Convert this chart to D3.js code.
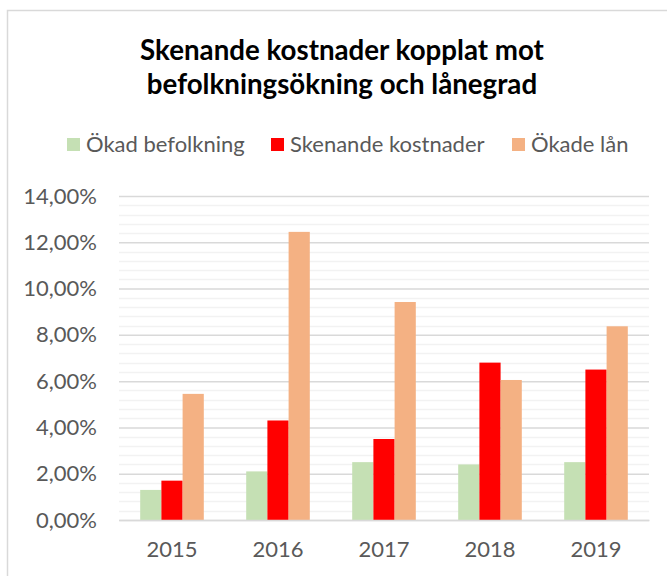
<!DOCTYPE html>
<html>
<head>
<meta charset="utf-8">
<script src="https://cdn.jsdelivr.net/npm/d3@7"></script>
<style>
	body { margin: 0; background: #fff; }
	#chart { font-family: Lato, 'Open Sans', sans-serif; }
</style>
</head>
<body>
<div id="chart"></div>
<script>

//данные графика
var years = ['2015', '2016', '2017', '2018', '2019'];
var seriesNames = ['Ökad befolkning', 'Skenande kostnader', 'Ökade lån'];
var befolkning = [1.30, 2.10, 2.50, 2.40, 2.50];
var kostnader = [1.70, 4.30, 3.50, 6.80, 6.50];
var lan = [5.45, 12.45, 9.42, 6.05, 8.37];
var yTicks = [0, 2, 4, 6, 8, 10, 12, 14];
var titleLines = ['Skenande kostnader kopplat mot', 'befolkningsökning och lånegrad'];

var seriesColors = ['#c5e0b4', '#ff0000', '#f4b183'];

var svgWidth = 667;
var svgHeight = 576;

var plot = {left: 119, right: 649, top: 196, bottom: 520};

var svg = d3.select('#chart')
	.append('svg')
	.attr('width', svgWidth)
	.attr('height', svgHeight)
;

//рамка диаграммы
svg.append('rect')
	.attr('x', 7.5)
	.attr('y', 10.5)
	.attr('width', 670)
	.attr('height', 580)
	.style('fill', 'none')
	.style('stroke', '#d9d9d9')
	.style('stroke-width', 1.5)
;

//заголовок
svg.append('g')
	.selectAll('text')
	.data(titleLines)
	.enter()
	.append('text')
	.attr('x', 342)
	.attr('y', function(d, i) { return 60 + i * 34; })
	.attr('text-anchor', 'middle')
	.style('font-size', '27.7px')
	.style('font-weight', 'bold')
	.style('fill', '#000')
	.text(function(d) { return d; })
;

//шкалы
var x0 = d3.scaleBand()
	.domain(years)
	.range([plot.left, plot.right])
	.paddingInner(0.4)
	.paddingOuter(0.2)
;

var x1 = d3.scaleBand()
	.domain(d3.range(seriesNames.length))
	.range([0, x0.bandwidth()])
;

var y = d3.scaleLinear()
	.domain([0, 14])
	.range([plot.bottom, plot.top])
;

//вспомогательные линии сетки (0,4%)
var minor = d3.range(0, 14, 0.4).filter(function(v) {
	return Math.abs(v / 2 - Math.round(v / 2)) > 0.01;
});

svg.append('g')
	.selectAll('line')
	.data(minor)
	.enter()
	.append('line')
	.attr('x1', plot.left)
	.attr('x2', plot.right)
	.attr('y1', function(d) { return Math.round(y(d)) + 0.5; })
	.attr('y2', function(d) { return Math.round(y(d)) + 0.5; })
	.style('stroke', '#f2f2f2')
	.style('stroke-width', 1.5)
;

//основная сетка
var locale = d3.formatLocale({decimal: ',', thousands: ' ', grouping: [3], currency: ['', '']});
var fmt = locale.format('.2f');

var yAxis = d3.axisLeft(y)
	.tickValues(yTicks)
	.tickSize(-(plot.right - plot.left))
	.tickPadding(22)
	.tickFormat(function(d) { return fmt(d) + '%'; })
;

var gy = svg.append('g')
	.attr('transform', 'translate(' + plot.left + ',0)')
	.call(yAxis)
;
gy.select('.domain').remove();
gy.selectAll('.tick line')
	.style('stroke', '#d9d9d9')
	.style('stroke-width', 1.5)
;
gy.selectAll('.tick text')
	.style('font-family', 'Lato, sans-serif')
	.style('font-size', '22px')
	.style('fill', '#595959')
;

//столбцы
var seriesData = [befolkning, kostnader, lan];

var groups = svg.append('g')
	.selectAll('g')
	.data(years)
	.enter()
	.append('g')
	.attr('transform', function(d) { return 'translate(' + x0(d) + ',0)'; })
;

groups.selectAll('rect')
	.data(function(d, i) {
		return seriesData.map(function(s, k) { return {k: k, v: s[i]}; });
	})
	.enter()
	.append('rect')
	.attr('x', function(d) { return x1(d.k); })
	.attr('width', x1.bandwidth())
	.attr('y', function(d) { return y(d.v); })
	.attr('height', function(d) { return y(0) - y(d.v); })
	.style('fill', function(d) { return seriesColors[d.k]; })
;

//ось X
var xAxis = d3.axisBottom(x0)
	.tickSize(0)
	.tickPadding(21)
;

var gx = svg.append('g')
	.attr('transform', 'translate(0,' + plot.bottom + ')')
	.call(xAxis)
;
gx.select('.domain')
	.style('stroke', '#d9d9d9')
	.style('stroke-width', 1.5)
;
gx.selectAll('.tick text')
	.style('font-family', 'Lato, sans-serif')
	.style('font-size', '22px')
	.style('fill', '#595959')
;

//легенда
var legendX = [67, 271, 512];

var legend = svg.append('g')
	.selectAll('g')
	.data(seriesNames)
	.enter()
	.append('g')
	.attr('transform', function(d, i) { return 'translate(' + legendX[i] + ',138)'; })
;

legend.append('rect')
	.attr('width', 13)
	.attr('height', 13)
	.style('fill', function(d, i) { return seriesColors[i]; })
;

legend.append('text')
	.attr('x', 19)
	.attr('y', 14)
	.style('font-size', '22px')
	.style('fill', '#595959')
	.text(function(d) { return d; })
;

</script>
</body>
</html>
